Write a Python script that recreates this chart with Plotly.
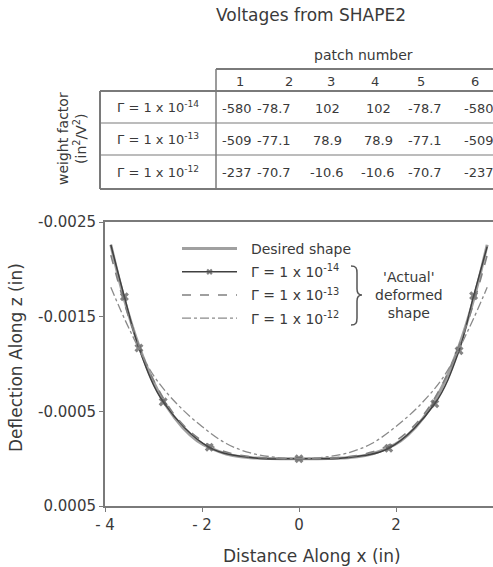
import plotly.graph_objects as go

# ---------------- data ----------------
patch_numbers = ["1", "2", "3", "4", "5", "6"]
gamma_labels = ["Γ = 1 x 10<sup>-14</sup>", "Γ = 1 x 10<sup>-13</sup>", "Γ = 1 x 10<sup>-12</sup>"]
voltages = [
    ["-580", "-78.7", "102", "102", "-78.7", "-580"],
    ["-509", "-77.1", "78.9", "78.9", "-77.1", "-509"],
    ["-237", "-70.7", "-10.6", "-10.6", "-70.7", "-237"],
]

desired_x = [-3.88, -3.6, -3.3, -3.0, -2.7, -2.4, -2.1, -1.8, -1.5, -1.2, -0.9, -0.6, -0.3, 0.0,
             0.3, 0.6, 0.9, 1.2, 1.5, 1.8, 2.1, 2.4, 2.7, 3.0, 3.3, 3.6, 3.88]
desired_y = [-0.00226, -0.00168, -0.00119, -0.00081, -0.00053, -0.00033, -0.00019, -0.000105, -0.00005,
             -0.00002, -0.000007, -0.000001, 0.0, 0.0,
             0.0, -0.000001, -0.000007, -0.00002, -0.00005, -0.000105, -0.00019, -0.00033, -0.00053,
             -0.00081, -0.00119, -0.00168, -0.00226]

g14_x = [-3.88, -3.6, -3.3, -2.8, -1.85, -0.9, 0.0, 0.9, 1.85, 2.8, 3.3, 3.6, 3.88]
g14_y = [-0.00226, -0.00171, -0.00117, -0.00060, -0.00012, -0.000008, 0.0, -0.000008, -0.00011,
         -0.00058, -0.00114, -0.00172, -0.00224]
g14_marker = [0, 8, 8, 8, 8, 0, 8, 0, 8, 8, 8, 8, 0]

g13_x = [-3.88, -3.5, -3.0, -2.5, -2.0, -1.5, -1.0, -0.5, 0.0, 0.5, 1.0, 1.5, 2.0, 2.5, 3.0, 3.5, 3.88]
g13_y = [-0.00215, -0.00148, -0.00083, -0.00042, -0.00019, -0.00007, -0.00002, -0.000003, 0.0,
         -0.000003, -0.00002, -0.00007, -0.00019, -0.00042, -0.00083, -0.00148, -0.00215]

g12_x = [-3.88, -3.5, -3.0, -2.5, -2.0, -1.5, -1.0, -0.5, 0.0, 0.5, 1.0, 1.5, 2.0, 2.5, 3.0, 3.5, 3.88]
g12_y = [-0.00181, -0.00137, -0.00088, -0.00057, -0.00034, -0.00016, -0.00006, -0.000015, 0.0,
         -0.000015, -0.00006, -0.00016, -0.00034, -0.00057, -0.00088, -0.00137, -0.00181]

x_tickvals = [-4, -2, 0, 2, 4]
x_ticktext = ["- 4", "- 2", "0", "2", "4"]
y_tickvals = [-0.0025, -0.0015, -0.0005, 0.0005]
y_ticktext = ["-0.0025", "-0.0015", "-0.0005", "0.0005"]

# ---------------- layout helpers ----------------
W, H = 493, 567
L, R, T, B = 105, 493, 222, 506
FONT = "DejaVu Sans"
TXT = "#3a3a3a"
LINEC = "#7a7a7a"


def px2x(px):
    return (px - L) / (R - L)


def py2y(py):
    return (B - py) / (B - T)


PAD = "&nbsp;&nbsp;"

fig = go.Figure()

fig.add_trace(go.Scatter(x=desired_x, y=desired_y, mode="lines", name=PAD + "Desired shape",
                         line=dict(color="#a0a0a0", width=3, shape="spline"),
                         legendgroup="a"))
fig.add_trace(go.Scatter(x=g14_x, y=g14_y, mode="lines+markers", name=PAD + gamma_labels[0],
                         line=dict(color="#404040", width=1.5, shape="spline"),
                         marker=dict(symbol="x", size=g14_marker, color="#505050",
                                     line=dict(width=0)),
                         legendgroup="b"))
fig.add_trace(go.Scatter(x=g13_x, y=g13_y, mode="lines", name=PAD + gamma_labels[1],
                         line=dict(color="#808080", width=1.6, dash="dash", shape="spline"),
                         legendgroup="c"))
fig.add_trace(go.Scatter(x=g12_x, y=g12_y, mode="lines", name=PAD + gamma_labels[2],
                         line=dict(color="#8a8a8a", width=1.3, dash="dashdot", shape="spline"),
                         legendgroup="d"))

shapes = []
annotations = []

# ---- table lines ----
tbl_left, tbl_label_right, tbl_right = 100, 216, 493
hdr_top = 69
row_lines = [91, 123, 155, 189]


def hline(x0, x1, y, w=1.5):
    shapes.append(dict(type="line", xref="paper", yref="paper",
                       x0=px2x(x0), x1=px2x(x1), y0=py2y(y), y1=py2y(y),
                       line=dict(color=LINEC, width=w)))


def vline(x, y0, y1, w=1.5):
    shapes.append(dict(type="line", xref="paper", yref="paper",
                       x0=px2x(x), x1=px2x(x), y0=py2y(y0), y1=py2y(y1),
                       line=dict(color=LINEC, width=w)))


hline(tbl_label_right, tbl_right, hdr_top, 2)
for i, yy in enumerate(row_lines):
    hline(tbl_left, tbl_right, yy, 2 if i in (0, 3) else 1.2)
vline(tbl_left, row_lines[0], row_lines[-1], 2)
vline(tbl_label_right, hdr_top, row_lines[-1], 1.5)


def text(s, x, y, size=13, angle=0, xanchor="center"):
    annotations.append(dict(text=s, x=px2x(x), y=py2y(y), xref="paper", yref="paper",
                            showarrow=False, xanchor=xanchor, yanchor="middle",
                            textangle=angle, font=dict(family=FONT, size=size, color=TXT)))


# title and table text
text("Voltages from SHAPE2", 311, 15, size=17)
text("patch number", 363, 55, size=14)
hdr_x = [240, 289, 331, 375, 421, 475]
for lab, xx in zip(patch_numbers, hdr_x):
    text(lab, xx, 81, size=13)
row_y = [107, 139, 172]
val_x = [237, 274, 327, 378, 425, 479]
for r, (glab, yy) in enumerate(zip(gamma_labels, row_y)):
    text(glab, 158, yy, size=13)
    for c, xx in enumerate(val_x):
        text(voltages[r][c], xx, yy + 1, size=13)
text("weight factor<br>(in<sup>2</sup>/V<sup>2</sup>)", 72, 139, size=14, angle=-90)

# axis titles
text("Distance Along x (in)", 312, 556, size=17)
text("Deflection Along z (in)", 16, 358, size=17, angle=-90)

# 'Actual' deformed shape + brace
text("'Actual'<br>deformed<br>shape", 409, 295, size=14)


def P(px, py):
    return f"{px2x(px):.5f},{py2y(py):.5f}"


brace = (f"M{P(351, 266)} C{P(356, 266)} {P(357, 268)} {P(357, 273)} "
         f"L{P(357, 289)} C{P(357, 293)} {P(359, 295)} {P(362, 295)} "
         f"C{P(359, 295)} {P(357, 297)} {P(357, 301)} "
         f"L{P(357, 318)} C{P(357, 323)} {P(356, 325)} {P(351, 325)}")
shapes.append(dict(type="path", xref="paper", yref="paper", path=brace,
                   line=dict(color="#555555", width=1.5)))

fig.update_layout(
    width=W, height=H,
    margin=dict(l=L, r=W - R, t=T, b=H - B),
    paper_bgcolor="white", plot_bgcolor="white",
    font=dict(family=FONT, size=14, color=TXT),
    showlegend=True,
    legend=dict(x=px2x(177), y=py2y(233), xanchor="left", yanchor="top",
                bgcolor="rgba(0,0,0,0)", borderwidth=0, itemwidth=55,
                tracegroupgap=2, font=dict(family=FONT, size=14, color=TXT)),
    shapes=shapes,
    annotations=annotations,
    xaxis=dict(range=[-4, 4], tickvals=x_tickvals, ticktext=x_ticktext,
               showgrid=False, zeroline=False, showline=True, linecolor=LINEC, linewidth=2,
               mirror=True, ticks="outside", ticklen=4, tickcolor=LINEC,
               tickfont=dict(family=FONT, size=15, color=TXT)),
    yaxis=dict(range=[0.0005, -0.0025], tickvals=y_tickvals, ticktext=y_ticktext,
               showgrid=False, zeroline=False, showline=True, linecolor=LINEC, linewidth=2,
               ticks="outside", ticklen=4, tickcolor=LINEC,
               tickfont=dict(family=FONT, size=15, color=TXT)),
)

fig.write_html("out.html")
